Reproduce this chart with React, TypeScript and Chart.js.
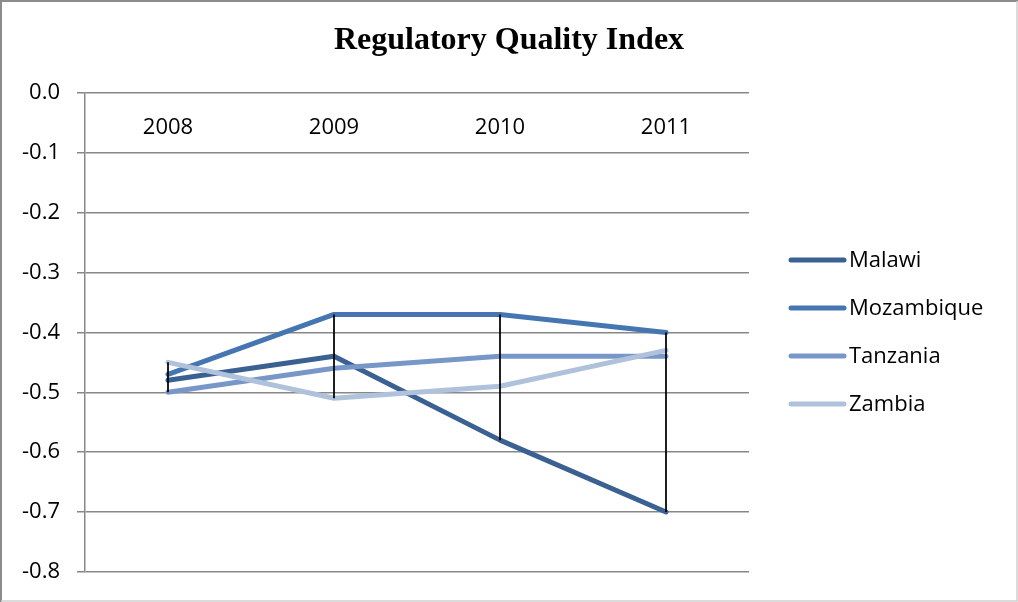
import React, { useEffect, useRef } from "react";
import { Chart, registerables } from "chart.js";

Chart.register(...registerables);

const TITLE = "Regulatory Quality Index";
const CATEGORIES = ["2008", "2009", "2010", "2011"];
const SERIES_NAMES = ["Malawi", "Mozambique", "Tanzania", "Zambia"];
const MALAWI = [-0.48, -0.44, -0.58, -0.7];
const MOZAMBIQUE = [-0.47, -0.37, -0.37, -0.4];
const TANZANIA = [-0.5, -0.46, -0.44, -0.44];
const ZAMBIA = [-0.45, -0.51, -0.49, -0.43];
const SERIES_COLORS = ["#3A6192", "#4676B2", "#7897C9", "#B0C1DB"];
const Y_MIN = -0.8;
const Y_MAX = 0;
const Y_STEP = 0.1;

const FONT = '"Open Sans", "Noto Sans", sans-serif';

export default function App() {
  const ref = useRef<HTMLCanvasElement | null>(null);

  useEffect(() => {
    const canvas = ref.current;
    if (!canvas) return;
    const seriesValues = [MALAWI, MOZAMBIQUE, TANZANIA, ZAMBIA];

    const framePlugin = {
      id: "frame",
      beforeDraw(chart: any) {
        const { ctx, width, height } = chart;
        ctx.save();
        ctx.fillStyle = "#ffffff";
        ctx.fillRect(0, 0, width, height);
        ctx.lineWidth = 2;
        ctx.strokeStyle = "#8c8c8c";
        ctx.beginPath();
        ctx.moveTo(1, height);
        ctx.lineTo(1, 1);
        ctx.lineTo(width, 1);
        ctx.stroke();
        ctx.strokeStyle = "#cfcfcf";
        ctx.lineWidth = 1.5;
        ctx.beginPath();
        ctx.moveTo(width - 1, 1);
        ctx.lineTo(width - 1, height - 1);
        ctx.lineTo(1, height - 1);
        ctx.stroke();
        ctx.restore();
      },
    };

    const overlayPlugin = {
      id: "overlay",
      afterDatasetsDraw(chart: any) {
        const { ctx } = chart;
        const x = chart.scales.x;
        const y = chart.scales.y;
        ctx.save();
        // high-low lines
        ctx.strokeStyle = "#000000";
        ctx.lineWidth = 1.75;
        CATEGORIES.forEach((_, i) => {
          const vals = seriesValues.map((s) => s[i]);
          const hi = Math.max(...vals);
          const lo = Math.min(...vals);
          const px = x.getPixelForValue(i);
          ctx.beginPath();
          ctx.moveTo(px, y.getPixelForValue(hi));
          ctx.lineTo(px, y.getPixelForValue(lo));
          ctx.stroke();
        });
        // category labels beneath the axis at zero
        ctx.fillStyle = "#000000";
        ctx.font = "22px " + FONT;
        ctx.textAlign = "center";
        ctx.textBaseline = "middle";
        const yl = y.getPixelForValue(0) + 35;
        CATEGORIES.forEach((c, i) => {
          ctx.fillText(c, x.getPixelForValue(i), yl);
        });
        ctx.restore();
      },
      afterDraw(chart: any) {
        const { ctx } = chart;
        ctx.save();
        ctx.font = "22px " + FONT;
        ctx.textAlign = "left";
        ctx.textBaseline = "middle";
        SERIES_NAMES.forEach((name, i) => {
          const cy = 260 + i * 48;
          ctx.strokeStyle = SERIES_COLORS[i];
          ctx.lineWidth = 5;
          ctx.lineCap = "round";
          ctx.beginPath();
          ctx.moveTo(791, cy);
          ctx.lineTo(844, cy);
          ctx.stroke();
          ctx.fillStyle = "#000000";
          ctx.fillText(name, 849, cy + 1);
        });
        ctx.restore();
      },
    };

    const chart = new Chart(canvas, {
      type: "line",
      data: {
        labels: CATEGORIES,
        datasets: SERIES_NAMES.map((name, i) => ({
          label: name,
          data: seriesValues[i],
          borderColor: SERIES_COLORS[i],
          backgroundColor: SERIES_COLORS[i],
          borderWidth: 5,
          pointRadius: 0,
          pointHoverRadius: 0,
          tension: 0,
          borderJoinStyle: "round" as const,
          borderCapStyle: "round" as const,
          fill: false,
          order: SERIES_NAMES.length - i,
        })),
      },
      options: {
        animation: false,
        responsive: false,
        maintainAspectRatio: false,
        devicePixelRatio: 1,
        events: [],
        layout: { padding: { top: 0, bottom: 28, left: 0, right: 0 } },
        plugins: {
          legend: { display: false },
          tooltip: { enabled: false },
          title: {
            display: true,
            text: TITLE,
            color: "#000000",
            font: { family: '"Liberation Serif", "Times New Roman", serif', size: 32, weight: "bold" },
            padding: { top: 22, bottom: 32.6 },
          },
        },
        scales: {
          x: {
            type: "category",
            display: false,
            offset: true,
            grid: { display: false },
          },
          y: {
            type: "linear",
            position: "left",
            min: Y_MIN,
            max: Y_MAX,
            ticks: {
              stepSize: Y_STEP,
              color: "#000000",
              padding: 17,
              font: { family: FONT, size: 22 },
              callback: (v: any) => {
                const n = Number(v);
                return (Math.abs(n) < 1e-9 ? 0 : n).toFixed(1);
              },
            },
            grid: {
              color: "#878787",
              lineWidth: 1.5,
              tickLength: 8,
              drawTicks: true,
            },
            border: { display: true, color: "#878787", width: 1.5 },
            afterFit: (s: any) => {
              s.width = 85;
            },
          },
          yR: {
            type: "linear",
            position: "right",
            display: true,
            min: Y_MIN,
            max: Y_MAX,
            ticks: { display: false },
            grid: { display: false, drawTicks: false },
            border: { display: false },
            afterFit: (s: any) => {
              s.width = 269;
            },
          },
        },
      },
      plugins: [framePlugin, overlayPlugin],
    } as any);

    return () => {
      chart.destroy();
    };
  }, []);

  return (
    <div style={{ position: "absolute", left: 0, top: 0, width: 1018, height: 602 }}>
      <canvas ref={ref} width={1018} height={602} style={{ display: "block" }} />
    </div>
  );
}
